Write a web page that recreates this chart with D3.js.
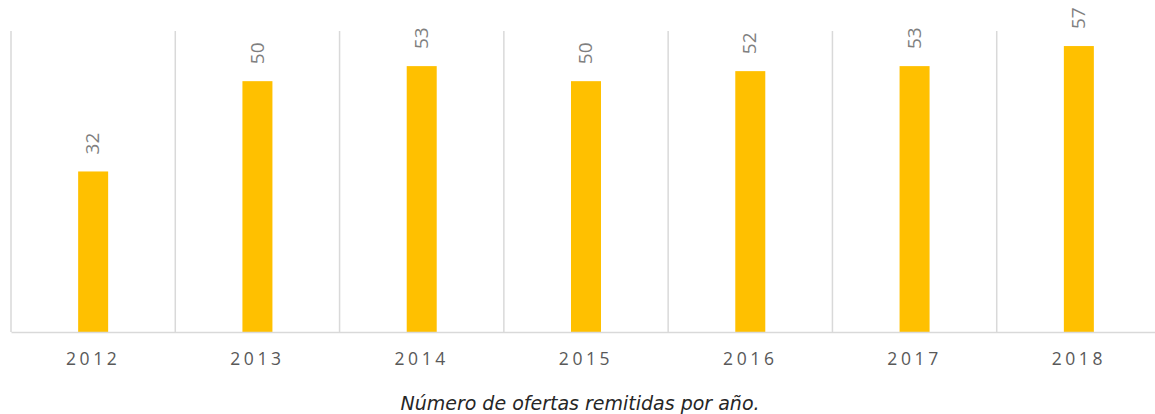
<!DOCTYPE html>
<html><head><meta charset="utf-8">
<script src="https://cdn.jsdelivr.net/npm/d3@7"></script>
<style>body{margin:0;background:#fff;}svg{display:block;}</style>
</head><body>
<svg id="c" width="1155" height="414"></svg>
<script>
const categories = ["2012","2013","2014","2015","2016","2017","2018"];
const values = [32,50,53,50,52,53,57];
const caption = "Número de ofertas remitidas por año.";

const svg = d3.select("#c");
const plotLeft = 11, plotRight = 1161, plotTop = 31, plotBottom = 332;
const x = d3.scaleBand().domain(categories).range([plotLeft, plotRight]);
const y = d3.scaleLinear().domain([0, 60]).range([plotBottom, plotTop]);
const barW = 30;

// vertical gridlines at category boundaries
const bounds = categories.map(c => x(c)).concat([plotRight]);
svg.append("g").selectAll("line").data(bounds).join("line")
  .attr("x1", d => d).attr("x2", d => d)
  .attr("y1", plotTop).attr("y2", plotBottom)
  .attr("stroke", "#d9d9d9").attr("stroke-width", 1.5);

// bars
svg.append("g").selectAll("rect").data(values).join("rect")
  .attr("x", (d,i) => x(categories[i]) + x.bandwidth()/2 - barW/2)
  .attr("width", barW)
  .attr("y", d => y(d))
  .attr("height", d => y(0) - y(d))
  .attr("fill", "#FFC000");

// baseline axis
const xAxis = d3.axisBottom(x).tickSize(0).tickPadding(21);
const ax = svg.append("g").attr("transform", `translate(0,${plotBottom})`).call(xAxis);
ax.select(".domain").attr("stroke", "#d9d9d9").attr("stroke-width", 1.5);
ax.selectAll("text")
  .attr("font-family", "'Open Sans', 'DejaVu Sans', sans-serif")
  .attr("font-size", 17.5)
  .attr("fill", "#595959")
  .attr("letter-spacing", "3.6px");

// value labels (rotated)
svg.append("g").selectAll("text").data(values).join("text")
  .attr("transform", (d,i) => `translate(${x(categories[i]) + x.bandwidth()/2 + 1},${y(d) - 17}) rotate(-90)`)
  .attr("text-anchor", "start")
  .attr("dominant-baseline", "middle")
  .attr("font-family", "'Open Sans', 'DejaVu Sans', sans-serif")
  .attr("font-size", 19)
  .attr("fill", "#7f7f7f")
  .text(d => d);

// caption
svg.append("text")
  .attr("x", 580).attr("y", 410)
  .attr("text-anchor", "middle")
  .attr("font-family", "'DejaVu Sans', sans-serif")
  .attr("font-style", "italic")
  .attr("font-size", 19)
  .attr("fill", "#262626")
  .text(caption);
</script>
</body></html>
